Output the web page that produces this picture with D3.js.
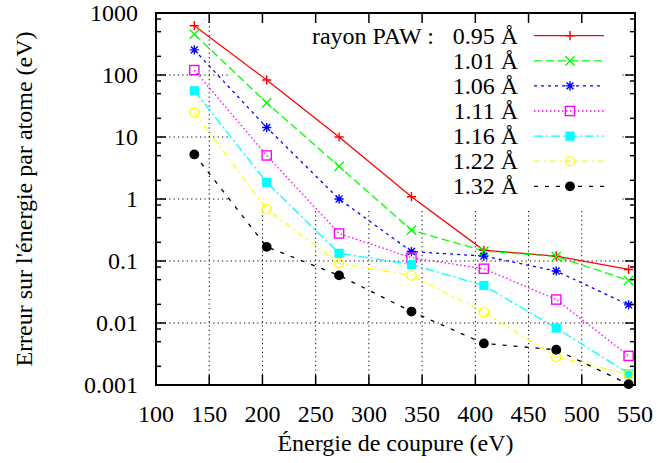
<!DOCTYPE html>
<html><head><meta charset="utf-8">
<script src="https://cdn.jsdelivr.net/npm/d3@7"></script>
<style>
body{margin:0;background:#fff}
svg{display:block;font-family:"Liberation Serif","Times New Roman",serif}
</style></head>
<body><svg id="c" width="659" height="463"></svg>
<script>
// ---- data ----
const cutoffs = [136, 204, 272, 340, 408, 476, 544];
const radii = ["0.95", "1.01", "1.06", "1.11", "1.16", "1.22", "1.32"];
const err095 = [624, 83, 10, 1.09, 0.149, 0.12, 0.073];
const err101 = [456, 35.6, 3.35, 0.314, 0.145, 0.118, 0.0485];
const err106 = [254, 14.2, 1.0, 0.142, 0.12, 0.069, 0.0196];
const err111 = [120, 5.04, 0.278, 0.113, 0.075, 0.0239, 0.00295];
const err116 = [55.7, 1.86, 0.133, 0.088, 0.0403, 0.0083, 0.00153];
const err122 = [24.8, 0.69, 0.0916, 0.0585, 0.0149, 0.00284, 0.00149];
const err132 = [5.23, 0.169, 0.0586, 0.0153, 0.00468, 0.0037, 0.00103];
const xTicks = [100, 150, 200, 250, 300, 350, 400, 450, 500, 550];
const yTicks = [0.001, 0.01, 0.1, 1, 10, 100, 1000];
const yTickLabels = ["0.001", "0.01", "0.1", "1", "10", "100", "1000"];
const legendTitle = "rayon PAW :";
const xTitle = "Énergie de coupure (eV)";
const yTitle = "Erreur sur l'énergie par atome (eV)";

// ---- styles ----
const colors = ["#ff0000", "#00ff00", "#0000ff", "#ff00ff", "#00ffff", "#ffff00", "#000000"];
const dashes = [null, "8,4", "3,4", "1.5,2.5", "9,3,2,3", "6,4,2,4", "4,7"];
const markers = ["plus", "cross", "star", "sqOpen", "sqFill", "circOpen", "circFill"];
const series = [err095, err101, err106, err111, err116, err122, err132];

const L = 156, R = 635, T = 13, B = 385;
const svg = d3.select("#c");
const x = d3.scaleLinear().domain([100, 550]).range([L, R]);
const y = d3.scaleLog().domain([0.001, 1000]).range([B, T]);

// grid
const grid = svg.append("g").attr("stroke", "#000").attr("stroke-width", 1)
  .attr("stroke-dasharray", "1.2,3.2");
xTicks.slice(1, -1).forEach(v => grid.append("line")
  .attr("x1", x(v)).attr("x2", x(v)).attr("y1", T).attr("y2", B));
yTicks.slice(1, -1).forEach(v => grid.append("line")
  .attr("x1", L).attr("x2", R).attr("y1", y(v)).attr("y2", y(v)));
// opaque key area
svg.append("rect").attr("x", 230).attr("y", T + 1).attr("width", 391).attr("height", 195).attr("fill", "#fff");

function marker(g, type, cx, cy, col) {
  const h = 4.6, p = d3.path();
  if (type === "plus" || type === "star") {
    p.moveTo(cx - h, cy); p.lineTo(cx + h, cy); p.moveTo(cx, cy - h); p.lineTo(cx, cy + h);
  }
  if (type === "cross" || type === "star") {
    const k = type === "star" ? h * 0.75 : h;
    p.moveTo(cx - k, cy - k); p.lineTo(cx + k, cy + k); p.moveTo(cx - k, cy + k); p.lineTo(cx + k, cy - k);
  }
  if (type === "plus" || type === "cross" || type === "star") {
    g.append("path").attr("d", p.toString()).attr("stroke", col).attr("stroke-width", 1.4).attr("fill", "none");
  } else if (type === "sqOpen") {
    g.append("rect").attr("x", cx - h).attr("y", cy - h).attr("width", 2 * h).attr("height", 2 * h)
      .attr("fill", "none").attr("stroke", col).attr("stroke-width", 1.4);
  } else if (type === "sqFill") {
    g.append("rect").attr("x", cx - h).attr("y", cy - h).attr("width", 2 * h).attr("height", 2 * h).attr("fill", col);
  } else if (type === "circOpen") {
    g.append("circle").attr("cx", cx).attr("cy", cy).attr("r", h).attr("fill", "none").attr("stroke", col).attr("stroke-width", 1.4);
  } else if (type === "circFill") {
    g.append("circle").attr("cx", cx).attr("cy", cy).attr("r", h + 0.3).attr("fill", col);
  }
}

// data
const line = d3.line().x((d, i) => x(cutoffs[i])).y(d => y(d));
const plotG = svg.append("g");
series.forEach((s, k) => {
  plotG.append("path").attr("d", line(s)).attr("fill", "none").attr("stroke", colors[k])
    .attr("stroke-width", 1.3).attr("stroke-dasharray", dashes[k]);
});
series.forEach((s, k) => {
  s.forEach((v, i) => marker(plotG, markers[k], x(cutoffs[i]), y(v), colors[k]));
});

// legend
const lg = svg.append("g").attr("font-size", 24);
lg.append("text").attr("x", 434).attr("y", 35.7 + 8).attr("text-anchor", "end").text(legendTitle);
radii.forEach((r, k) => {
  const yy = 35.7 + 25.1 * k;
  lg.append("text").attr("x", 518).attr("y", yy + 8).attr("text-anchor", "end").text(r + " Å");
  lg.append("line").attr("x1", 534).attr("x2", 604).attr("y1", yy).attr("y2", yy)
    .attr("stroke", colors[k]).attr("stroke-width", 1.3).attr("stroke-dasharray", dashes[k]);
  marker(lg, markers[k], 570, yy, colors[k]);
});

// frame and ticks
const fr = svg.append("g").attr("stroke", "#000");
fr.append("rect").attr("x", L).attr("y", T).attr("width", R - L).attr("height", B - T)
  .attr("fill", "none").attr("stroke-width", 2);
xTicks.forEach(v => {
  fr.append("line").attr("x1", x(v)).attr("x2", x(v)).attr("y1", B).attr("y2", B - 10).attr("stroke-width", 1.5);
  fr.append("line").attr("x1", x(v)).attr("x2", x(v)).attr("y1", T).attr("y2", T + 10).attr("stroke-width", 1.5);
});
yTicks.forEach(v => {
  fr.append("line").attr("x1", L).attr("x2", L + 10).attr("y1", y(v)).attr("y2", y(v)).attr("stroke-width", 1.5);
  fr.append("line").attr("x1", R).attr("x2", R - 10).attr("y1", y(v)).attr("y2", y(v)).attr("stroke-width", 1.5);
});
const minors = [];
yTicks.slice(0, -1).forEach(v => [2, 5, 8].forEach(m => minors.push(v * m)));
minors.forEach(v => {
  fr.append("line").attr("x1", L).attr("x2", L + 5).attr("y1", y(v)).attr("y2", y(v)).attr("stroke-width", 1.5);
  fr.append("line").attr("x1", R).attr("x2", R - 5).attr("y1", y(v)).attr("y2", y(v)).attr("stroke-width", 1.5);
});

// tick labels
const tl = svg.append("g").attr("font-size", 24).attr("fill", "#000");
xTicks.forEach(v => tl.append("text").attr("x", x(v)).attr("y", 422).attr("text-anchor", "middle").text(v));
yTicks.forEach((v, i) => tl.append("text").attr("x", 138).attr("y", y(v) + 8).attr("text-anchor", "end").text(yTickLabels[i]));

// titles
svg.append("text").attr("x", (L + R) / 2).attr("y", 451).attr("text-anchor", "middle").attr("font-size", 24).text(xTitle);
svg.append("text").attr("transform", `translate(32,${(T + B) / 2}) rotate(-90)`).attr("text-anchor", "middle")
  .attr("font-size", 24).text(yTitle);
</script></body></html>
